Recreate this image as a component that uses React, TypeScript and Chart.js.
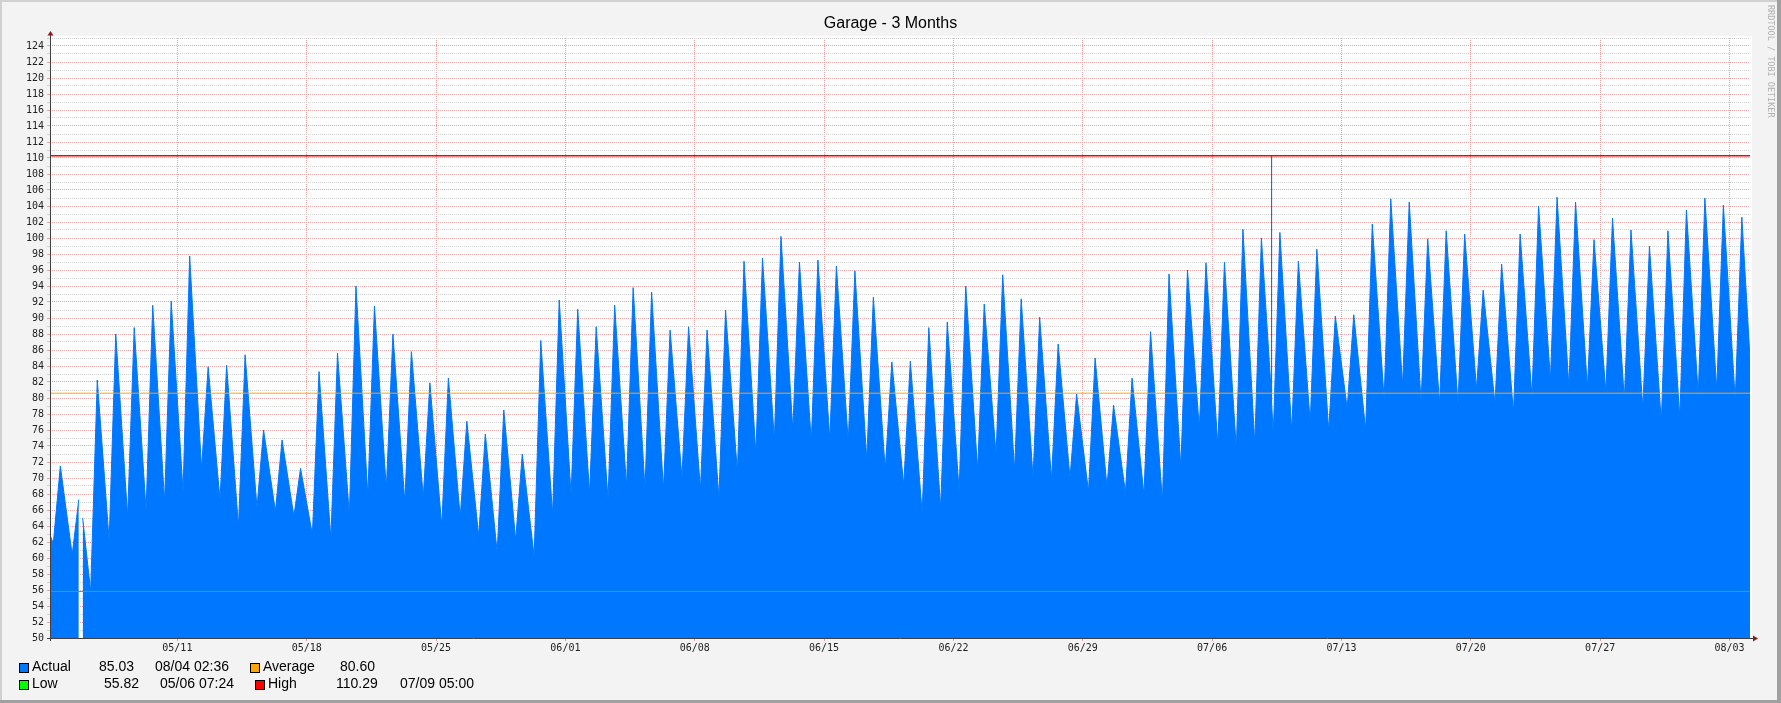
import React, { useEffect, useRef } from "react";
import { Chart, registerables } from "chart.js";

Chart.register(...registerables);

// ---------- data ----------
const chartTitle = "Garage - 3 Months";
const watermark = "RRDTOOL / TOBI OETIKER";

// hours counted from 05/04 00:00
const rangeStartHour = 2.6; // 05/04 02:36
const rangeEndHour = 2210.6; // 08/04 02:36
const peakHour = 16; // afternoon peak of each day
const troughHour = 7.4; // early-morning low of each day

// daily peak values, 05/04 .. 08/03
const peakValues = [
  71.5, 67.3, 82.25, 88.0, 88.8, 91.6, 92.1, 97.75, 83.9, 84.1,
  85.4, 76.0, 74.75, 71.2, 83.3, 85.6, 94.0, 91.5, 88.0, 85.8,
  81.9, 82.5, 77.1, 75.5, 78.5, 73.0, 87.2, 92.25, 91.1, 88.9,
  91.6, 93.8, 93.25, 88.5, 88.9, 88.5, 91.0, 97.1, 97.5, 100.2,
  97.0, 97.25, 96.5, 95.9, 92.6, 84.5, 84.6, 88.8, 89.5, 94.0,
  91.75, 95.4, 92.4, 90.1, 86.75, 80.5, 85.0, 79.1, 82.5, 88.3,
  95.5, 96.0, 96.9, 97.0, 101.1, 100.0, 100.7, 97.1, 98.6, 90.25,
  90.4, 101.75, 104.9, 104.5, 99.9, 100.9, 100.5, 93.5, 96.75, 100.5,
  104.0, 105.1, 104.5, 99.8, 102.5, 101.0, 99.0, 100.9, 103.5, 105.0,
  104.1, 102.6,
];

// morning low following each peak (05/05 .. 08/03)
const lowValues = [
  60.4, 55.82, 62.2, 65.2, 65.9, 67.0, 68.3, 71.1, 67.25, 63.9,
  66.3, 65.8, 65.2, 62.9, 62.4, 65.4, 67.75, 68.6, 67.0, 67.6,
  64.0, 65.1, 62.75, 60.7, 62.25, 60.2, 65.4, 67.8, 68.0, 67.3,
  68.9, 68.6, 68.5, 70.0, 68.5, 67.5, 70.7, 73.0, 74.7, 76.0,
  74.5, 74.8, 74.5, 72.3, 71.0, 69.1, 65.6, 66.2, 68.4, 71.0,
  72.9, 70.9, 70.0, 69.8, 70.0, 68.3, 68.9, 68.2, 67.9, 67.0,
  71.3, 76.2, 74.1, 73.6, 74.3, 75.4, 75.8, 76.9, 75.9, 78.7,
  76.0, 79.8, 81.5, 79.5, 79.3, 79.25, 81.1, 79.3, 78.1, 80.2,
  82.25, 81.4, 81.2, 80.7, 79.8, 78.7, 77.0, 77.5, 80.4, 81.0,
  79.75,
];

const startHours = [2.6, 6.9];
const startValues = [62.9, 61.8];
const gapHours = [42, 45];
const gapValues: (number | null)[] = [null, 65.0];
const spikeHours = [1588.6, 1589, 1589.4];
const spikeValues = [81.0, 110.29, 79.5];
const endHours = [2210.6];
const endValues = [85.03];

const weekTickHours = [168, 336, 504, 672, 840, 1008, 1176, 1344, 1512, 1680, 1848, 2016, 2184];
const weekLabels = ["05/11", "05/18", "05/25", "06/01", "06/08", "06/15", "06/22", "06/29", "07/06", "07/13", "07/20", "07/27", "08/03"];

const actualCurrent = "85.03";
const actualTime = "08/04 02:36";
const averageValue = 80.6;
const lowValue = 55.82;
const lowTime = "05/06 07:24";
const highValue = 110.29;
const highTime = "07/09 05:00";

const blue = "#0077ff";
const orange = "#ffa500";
const green = "#00ff00";
const red = "#ff0000";

function buildActual() {
  const pts: { x: number; y: number | null }[] = [];
  startHours.forEach((h, i) => pts.push({ x: h, y: startValues[i] }));
  peakValues.forEach((v, k) => {
    pts.push({ x: k * 24 + peakHour, y: v });
    if (k < lowValues.length) pts.push({ x: (k + 1) * 24 + troughHour, y: lowValues[k] });
  });
  gapHours.forEach((h, i) => pts.push({ x: h, y: gapValues[i] }));
  spikeHours.forEach((h, i) => pts.push({ x: h, y: spikeValues[i] }));
  endHours.forEach((h, i) => pts.push({ x: h, y: endValues[i] }));
  pts.sort((a, b) => a.x - b.x);
  return pts;
}

const framePlugin = {
  id: "rrdFrame",
  beforeDraw(chart: any) {
    const { ctx, chartArea: a, width, height } = chart;
    ctx.save();
    ctx.fillStyle = "#f3f3f3";
    ctx.fillRect(0, 0, width, height);
    ctx.fillStyle = "#d0d0d0";
    ctx.fillRect(0, 0, width, 2);
    ctx.fillRect(0, 0, 2, height);
    ctx.fillStyle = "#a0a0a0";
    ctx.fillRect(0, height - 3, width, 3);
    ctx.fillRect(width - 4, 0, 4, height);
    ctx.fillStyle = "#ffffff";
    ctx.fillRect(a.left, a.top - 2, a.right - a.left + 2, a.bottom - a.top + 2);
    ctx.restore();
  },
  afterDraw(chart: any) {
    const { ctx, chartArea: a } = chart;
    ctx.save();
    ctx.strokeStyle = "#404040";
    ctx.lineWidth = 1;
    ctx.beginPath();
    ctx.moveTo(a.left + 0.5, a.top - 4);
    ctx.lineTo(a.left + 0.5, a.bottom + 3);
    ctx.moveTo(a.left - 3, a.bottom + 0.5);
    ctx.lineTo(a.right + 4, a.bottom + 0.5);
    ctx.stroke();
    ctx.fillStyle = "#8b1a1a";
    ctx.beginPath();
    ctx.moveTo(a.left + 0.5, a.top - 7);
    ctx.lineTo(a.left - 2.5, a.top - 2.5);
    ctx.lineTo(a.left + 3.5, a.top - 2.5);
    ctx.closePath();
    ctx.fill();
    ctx.beginPath();
    ctx.moveTo(a.right + 8, a.bottom + 0.5);
    ctx.lineTo(a.right + 3, a.bottom - 2.5);
    ctx.lineTo(a.right + 3, a.bottom + 3.5);
    ctx.closePath();
    ctx.fill();
    ctx.restore();
  },
};

const legendFont = "'Liberation Sans', Arial, sans-serif";

function Swatch({ left, top, color }: { left: number; top: number; color: string }) {
  return (
    <div
      style={{
        position: "absolute",
        left,
        top,
        width: 8,
        height: 8,
        background: color,
        border: "1px solid #000",
      }}
    />
  );
}

function Txt({ left, top, children }: { left: number; top: number; children: React.ReactNode }) {
  return (
    <div
      style={{
        position: "absolute",
        left,
        top,
        font: `14px ${legendFont}`,
        lineHeight: "14px",
        color: "#000",
        whiteSpace: "nowrap",
      }}
    >
      {children}
    </div>
  );
}

export default function App() {
  const canvasRef = useRef<HTMLCanvasElement | null>(null);

  useEffect(() => {
    const canvas = canvasRef.current;
    if (!canvas) return;
    const chart = new Chart(canvas, {
      type: "line",
      data: {
        datasets: [
          {
            label: "Actual",
            data: buildActual() as any,
            borderColor: blue,
            backgroundColor: blue,
            borderWidth: 1,
            pointRadius: 0,
            fill: "start",
            tension: 0,
            spanGaps: false,
            order: 1,
          },
          {
            label: "Average",
            data: [
              { x: rangeStartHour, y: averageValue },
              { x: rangeEndHour, y: averageValue },
            ] as any,
            borderColor: orange,
            borderWidth: 1,
            pointRadius: 0,
            fill: false,
            order: 0,
          },
          {
            label: "Low",
            data: [
              { x: rangeStartHour, y: lowValue },
              { x: rangeEndHour, y: lowValue },
            ] as any,
            borderColor: "#00dd00",
            borderWidth: 1,
            pointRadius: 0,
            fill: false,
            order: 0,
          },
          {
            label: "High",
            data: [
              { x: rangeStartHour, y: highValue },
              { x: rangeEndHour, y: highValue },
            ] as any,
            borderColor: red,
            borderWidth: 1.5,
            pointRadius: 0,
            fill: false,
            order: 0,
          },
        ],
      },
      options: {
        animation: false,
        responsive: false,
        devicePixelRatio: 1,
        layout: { padding: { top: 38, left: 0, right: 31, bottom: 45 } },
        plugins: {
          legend: { display: false },
          title: { display: false },
          tooltip: { enabled: false },
        },
        scales: {
          x: {
            type: "linear",
            min: rangeStartHour,
            max: rangeEndHour,
            bounds: "data",
            z: 1,
            afterBuildTicks: (scale: any) => {
              scale.ticks = weekTickHours.map((v) => ({ value: v }));
            },
            afterFit: (scale: any) => {
              scale.height = 20;
            },
            ticks: {
              autoSkip: false,
              maxRotation: 0,
              padding: 1,
              color: "#222",
              font: { family: "'DejaVu Sans Mono', monospace", size: 10 },
              callback: (_v: any, i: number) => weekLabels[i],
            },
            grid: {
              color: "#e8a0a0",
              tickColor: "#e8a0a0",
              tickLength: 3,
              lineWidth: 1,
            },
            border: { display: false, dash: [1, 1] },
          },
          y: {
            type: "linear",
            min: 50,
            max: 125,
            z: 1,
            afterFit: (scale: any) => {
              scale.width = 50;
            },
            ticks: {
              stepSize: 1,
              autoSkip: false,
              padding: 3,
              color: "#222",
              font: { family: "'DejaVu Sans Mono', monospace", size: 10 },
              callback: (v: any) => (Number(v) % 2 === 0 && Number(v) < 125 ? String(v) : ""),
            },
            grid: {
              color: (ctx: any) => (ctx.tick && ctx.tick.value % 2 === 0 ? "#e8a8a8" : "#d0d0d0"),
              tickColor: (ctx: any) => (ctx.tick && ctx.tick.value % 2 === 0 ? "#e8a8a8" : "#d0d0d0"),
              tickLength: 3,
              lineWidth: 1,
            },
            border: { display: false, dash: [1, 1] },
          },
        },
      } as any,
      plugins: [framePlugin],
    });
    return () => chart.destroy();
  }, []);

  return (
    <div style={{ position: "absolute", left: 0, top: 0, width: 1781, height: 703, overflow: "hidden" }}>
      <canvas ref={canvasRef} width={1781} height={703} style={{ width: 1781, height: 703, display: "block" }} />
      <div
        style={{
          position: "absolute",
          left: 0,
          width: 1781,
          top: 14.5,
          textAlign: "center",
          font: `16px ${legendFont}`,
          lineHeight: "16px",
          color: "#000",
          paddingLeft: 0,
        }}
      >
        <span style={{ position: "relative", left: 0 }}>{chartTitle}</span>
      </div>
      <div
        style={{
          position: "absolute",
          left: 1766,
          top: 5,
          writingMode: "vertical-rl",
          font: "8.5px 'DejaVu Sans Mono', monospace",
          color: "#b0b0b0",
          whiteSpace: "nowrap",
        }}
      >
        {watermark}
      </div>

      <Swatch left={19} top={663} color={blue} />
      <Txt left={32} top={659}>Actual</Txt>
      <Txt left={99} top={659}>{actualCurrent}</Txt>
      <Txt left={155} top={659}>{actualTime}</Txt>
      <Swatch left={249.5} top={663} color={orange} />
      <Txt left={263} top={659}>Average</Txt>
      <Txt left={340} top={659}>{averageValue.toFixed(2)}</Txt>

      <Swatch left={19} top={679.5} color={green} />
      <Txt left={32} top={676}>Low</Txt>
      <Txt left={104} top={676}>{lowValue.toFixed(2)}</Txt>
      <Txt left={160} top={676}>{lowTime}</Txt>
      <Swatch left={255} top={679.5} color={red} />
      <Txt left={268} top={676}>High</Txt>
      <Txt left={336} top={676}>{highValue.toFixed(2)}</Txt>
      <Txt left={400} top={676}>{highTime}</Txt>
    </div>
  );
}
